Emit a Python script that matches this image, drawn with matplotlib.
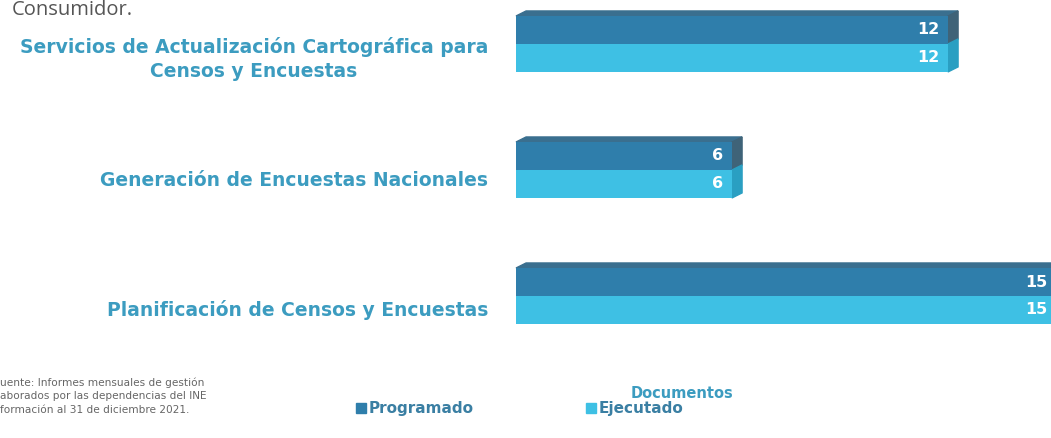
import matplotlib
matplotlib.use("Agg")
import matplotlib.pyplot as plt
from matplotlib.patches import Polygon

categories = ["Servicios de Actualización Cartográfica para\nCensos y Encuestas",
              "Generación de Encuestas Nacionales",
              "Planificación de Censos y Encuestas"]
programado = [12, 6, 15]
ejecutado = [12, 6, 15]
series_names = ["Programado", "Ejecutado"]

dark = "#2f7eab"
light = "#3ec0e4"
label_col = "#3c9cc0"

W, H = 1051, 438
fig = plt.figure(figsize=(W / 100, H / 100), dpi=100)
fig.patch.set_facecolor("white")

ax_left = 516 / W
ax_right = 1056 / W
ax = fig.add_axes([ax_left, 0, ax_right - ax_left, 1])
ax.set_xlim(0, 15)
ax.set_ylim(3.127, -0.349)
ax.axis("off")

h = 0.222
ys = list(range(len(categories)))
ax.barh([y - h / 2 for y in ys], programado, height=h, color=dark, zorder=3)
ax.barh([y + h / 2 for y in ys], ejecutado, height=h, color=light, zorder=3)

# pseudo 3D faces
dx = 0.28
dy = 0.04
for y, p, e in zip(ys, programado, ejecutado):
    top = y - h
    ax.add_patch(Polygon([(0, top), (dx, top - dy), (p + dx, top - dy), (p, top)],
                         closed=True, color="#3a6f8f", zorder=2, clip_on=False))
    ax.add_patch(Polygon([(p, top), (p + dx, top - dy), (p + dx, y - dy), (p, y)],
                         closed=True, color="#3f6378", zorder=2, clip_on=False))
    ax.add_patch(Polygon([(e, y), (e + dx, y - dy), (e + dx, y + h - dy), (e, y + h)],
                         closed=True, color="#2a9fc2", zorder=2, clip_on=False))
    ax.text(p - 0.25, y - h / 2, str(p), color="white", fontsize=11.5, fontweight="bold",
            ha="right", va="center", zorder=5)
    ax.text(e - 0.25, y + h / 2, str(e), color="white", fontsize=11.5, fontweight="bold",
            ha="right", va="center", zorder=5)

# category labels
label_y_px = [59, 181, 310]
for cat, ypx in zip(categories, label_y_px):
    fig.text(488 / W, 1 - ypx / H, cat, color=label_col, fontsize=13.5, fontweight="bold",
             ha="right", va="center", multialignment="center", linespacing=1.35)

fig.text(12 / W, 1 - 10 / H, "Consumidor.", color="#555555", fontsize=14.5, ha="left",
         va="center", family="Open Sans")

fig.text(0.0, 1 - 396 / H,
         "uente: Informes mensuales de gestión\naborados por las dependencias del INE\nformación al 31 de diciembre 2021.",
         color="#666666", fontsize=7.6, ha="left", va="center", linespacing=1.45,
         family="Liberation Sans Narrow")

fig.text(682 / W, 1 - 394 / H, "Documentos", color=label_col, fontsize=10.5, fontweight="bold",
         ha="center", va="center")

for name, col, xpx in zip(series_names, [dark, light], [356, 586]):
    fig.patches.append(plt.Rectangle((xpx / W, 1 - 413 / H), 10 / W, 10 / H, color=col,
                                     transform=fig.transFigure, figure=fig))
    fig.text((xpx + 13) / W, 1 - 408 / H, name, color="#3a7fa3", fontsize=11,
             fontweight="bold", ha="left", va="center")

fig.savefig("out.png", dpi=100)
